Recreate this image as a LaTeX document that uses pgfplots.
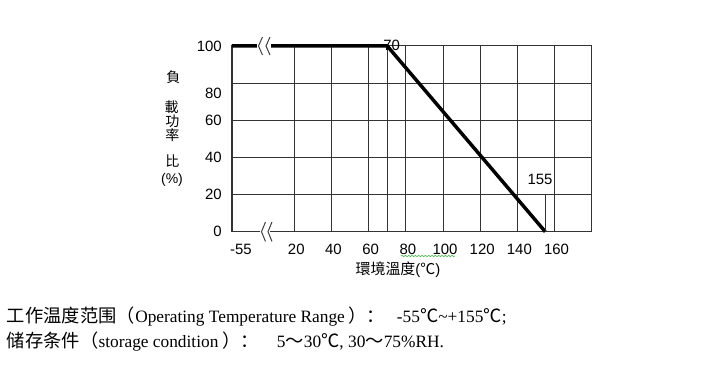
\documentclass[border=0pt]{standalone}
\usepackage{pgfplots}
\pgfplotsset{compat=1.18}
\usepackage{fontspec}
\setmainfont{Liberation Sans}
\newfontfamily\serifL{Liberation Serif}
\newfontfamily\cjktc{Noto Sans CJK TC}
\newfontfamily\cjksc{Noto Sans CJK SC}
\usetikzlibrary{decorations.pathmorphing}
\begin{document}
\begin{tikzpicture}
\begin{axis}[
  at={(0,0)}, anchor=south west,
  scale only axis, width=269.8pt, height=139.3pt,
  xmin=-13.5, xmax=180, ymin=0, ymax=100,
  clip=false,
  axis line style={draw=black!80, line width=0.8pt},
  xtick={20,40,60,70,80,100,120,140,160},
  xticklabels={20,40,60,,80,100,120,140,160},
  extra x ticks={-13.5}, extra x tick labels={-55},
  extra x tick style={grid=none, xticklabel style={xshift=5.25pt}},
  ytick={0,20,40,60,80,100}, yticklabels={0,20,40,60,,100},
  extra y ticks={80}, extra y tick labels={80},
  extra y tick style={grid=none, yticklabel style={yshift=-7.5pt}},
  major tick length=0pt,
  grid=major, major grid style={draw=black!80, line width=0.75pt},
  tick label style={font=\fontsize{11.2}{13}\selectfont},
  xticklabel style={inner sep=0pt, anchor=north, yshift=-9pt, xshift=1.5pt},
  yticklabel style={inner sep=0pt, anchor=east, xshift=-7.5pt},
]
\addplot[black, line width=2.6pt] coordinates {(-13.5,100) (70,100) (155,0)};
\addplot[black!80, line width=0.75pt] coordinates {(155,0) (155,20)};
\end{axis}
\begin{scope}[x=0.75pt, y=-0.75pt, xshift=-174pt, yshift=173.775pt]
  % axis breaks
  \fill[white] (257.5,42) rectangle (271,50);
  \fill[white] (260,229.5) rectangle (270.5,234);
  \draw[black!75, line width=0.75pt] (262.5,37)--(258.5,46)--(262.5,55);
  \draw[black!75, line width=0.75pt] (270,37)--(266,46)--(270,55);
  \draw[black!75, line width=0.75pt] (265.5,222)--(261.5,231.7)--(265.5,241.5);
  \draw[black!75, line width=0.75pt] (272,222)--(268,231.7)--(272,241.5);
  % annotations
  \node[font=\fontsize{11.2}{13}\selectfont, inner sep=0pt] at (391.7,45) {70};
  \node[font=\fontsize{11.2}{13}\selectfont, inner sep=0pt] at (540,179) {155};
  % y label
  \node[font=\fontsize{10.5}{12}\cjktc, inner sep=0pt] at (173.3,77.5) {負};
  \node[font=\fontsize{10.5}{12}\cjktc, inner sep=0pt] at (171.7,107.5) {載};
  \node[font=\fontsize{10.5}{12}\cjktc, inner sep=0pt] at (172.5,121) {功};
  \node[font=\fontsize{10.5}{12}\cjktc, inner sep=0pt] at (172.5,135.5) {率};
  \node[font=\fontsize{10.5}{12}\cjktc, inner sep=0pt] at (172.5,161) {比};
  \node[font=\fontsize{10.5}{12}\selectfont, inner sep=0pt] at (172,180) {(\%)};
  % x label
  \node[font=\fontsize{11.2}{13}\selectfont, inner sep=0pt] at (398,269.3) {{\cjktc 環境溫度}({\cjktc ℃})};
  \draw[green!60!black!70, line width=0.5pt, decorate, decoration={snake, amplitude=0.5pt, segment length=2.5pt}] (401,256)--(455,256);
  % bottom text line 1
  \node[anchor=base west, inner sep=0pt, font=\fontsize{13.7}{16}\cjksc] at (6.7,322.7) {工作温度范围（};
  \node[anchor=base west, inner sep=0pt, font=\fontsize{13}{16}\serifL] at (135,322.7) {Operating Temperature Range};
  \node[anchor=base west, inner sep=0pt, font=\fontsize{13.7}{16}\cjksc] at (348,322.7) {）：};
  \node[anchor=base west, inner sep=0pt, font=\fontsize{13}{16}\serifL] at (396.7,322.7) {-55{\fontsize{13.7}{16}\cjksc ℃}\char"7E+155{\fontsize{13.7}{16}\cjksc ℃};};
  % bottom text line 2
  \node[anchor=base west, inner sep=0pt, font=\fontsize{13.7}{16}\cjksc] at (6.7,347.3) {储存条件（};
  \node[anchor=base west, inner sep=0pt, font=\fontsize{13}{16}\serifL] at (98.3,347.3) {storage condition};
  \node[anchor=base west, inner sep=0pt, font=\fontsize{13.7}{16}\cjksc] at (222,347.3) {）：};
  \node[anchor=base west, inner sep=0pt, font=\fontsize{13}{16}\serifL] at (276.7,347.3) {5{\fontsize{13.7}{16}\cjksc ～}30{\fontsize{13.7}{16}\cjksc ℃}, 30{\fontsize{13.7}{16}\cjksc ～}75\%RH.};
\end{scope}
\pgfresetboundingbox
\begin{scope}[x=0.75pt, y=-0.75pt, xshift=-174pt, yshift=173.775pt]
  \path[use as bounding box] (0,0) rectangle (708,377);
\end{scope}
\end{tikzpicture}
\end{document}
